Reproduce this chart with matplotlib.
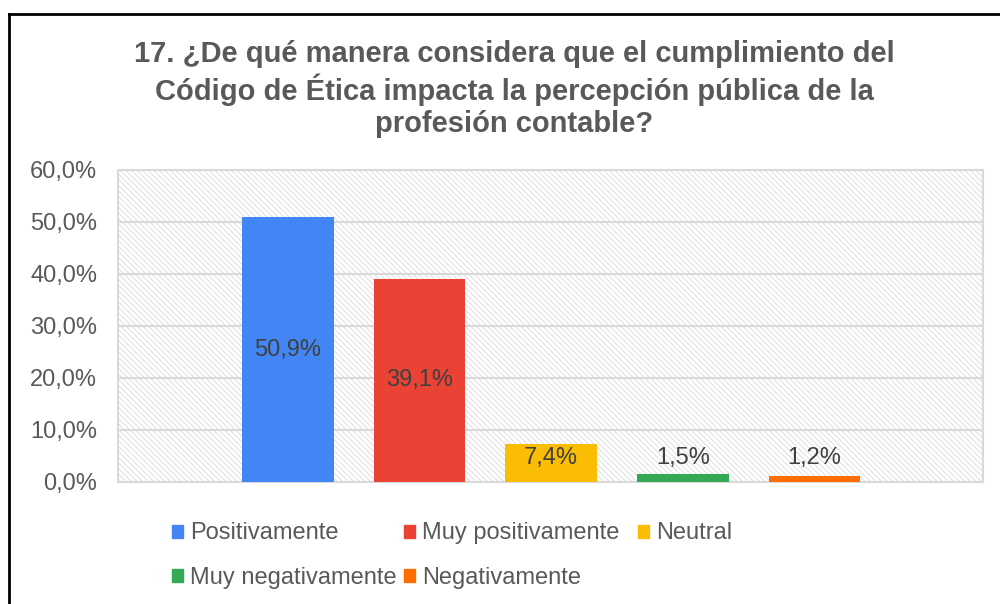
import matplotlib
matplotlib.use('Agg')
import matplotlib.pyplot as plt
from matplotlib.lines import Line2D
from matplotlib.patches import Patch

# datos
categorias = ['Positivamente', 'Muy positivamente', 'Neutral', 'Muy negativamente', 'Negativamente']
valores = [50.9, 39.1, 7.4, 1.5, 1.2]
colores = ['#4285F4', '#EA4335', '#FBBC04', '#34A853', '#FF6D01']
yticks = [0, 10, 20, 30, 40, 50, 60]
titulo = ('17. ¿De qué manera considera que el cumplimiento del\n'
          'Código de Ética impacta la percepción pública de la\n'
          'profesión contable?')

plt.rcParams['font.family'] = ['Liberation Sans', 'DejaVu Sans']
plt.rcParams['hatch.color'] = '#d9d9d9'
plt.rcParams['hatch.linewidth'] = 0.6

fig = plt.figure(figsize=(10, 6.04), dpi=100)
ax = fig.add_axes([0.118, 0.202, 0.865, 0.5166])

# fondo rayado
ax.patch.set_hatch('\\\\\\\\\\\\')
ax.patch.set_edgecolor('#d9d9d9')

x = list(range(len(valores)))
ax.bar(x, valores, width=0.697, color=colores, zorder=3)

for xi, v in zip(x, valores):
    ax.text(xi, max(v / 2, 4.7), f'{v:.1f}%'.replace('.', ','), ha='center', va='center',
            fontsize=17, color='#404040', zorder=4)

ax.set_xlim(-1.29, 5.28)
ax.set_ylim(0, 60)
ax.set_yticks(yticks)
ax.set_yticklabels([f'{t:.1f}%'.replace('.', ',') for t in yticks])
ax.set_xticks([])
ax.tick_params(axis='y', length=0, pad=15, labelsize=17, labelcolor='#595959')
ax.grid(axis='y', color='#d9d9d9', linewidth=1.5)
ax.set_axisbelow(True)
for s in ax.spines.values():
    s.set_color('#d9d9d9')
    s.set_linewidth(1.5)

fig.text(0.514, 0.934, titulo, ha='center', va='top', fontsize=21, fontweight='bold',
         color='#595959', linespacing=1.2)

# leyenda: columnas de igual ancho, como en Excel
columnas = [[0, 3], [1, 4], [2]]
x_col = [0.172, 0.404, 0.638]
for idx, xc in zip(columnas, x_col):
    handles = [Patch(color=colores[i]) for i in idx]
    labels = [categorias[i] for i in idx]
    leg = fig.legend(handles, labels, frameon=False, loc='upper left',
                     bbox_to_anchor=(xc, 0.135), fontsize=17, labelcolor='#595959',
                     handlelength=0.47, handleheight=0.47, handletextpad=0.3,
                     labelspacing=0.95, borderpad=0, borderaxespad=0)

# marco exterior
fig.add_artist(Line2D([0.009, 1.0], [0.977, 0.977], color='black', lw=2))
fig.add_artist(Line2D([0.009, 0.009], [0.0, 0.977], color='black', lw=2))

fig.savefig('out.png', dpi=100)
